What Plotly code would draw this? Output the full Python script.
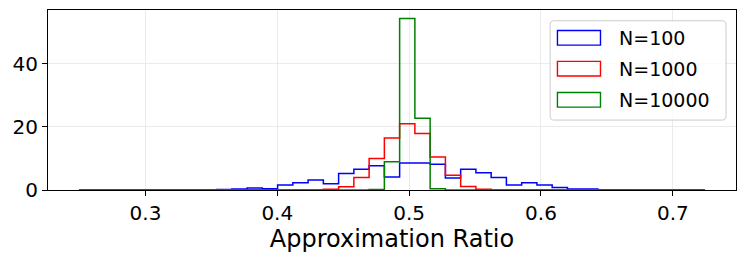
import numpy as np
import plotly.graph_objects as go
import re

# ---- data (density histograms, shared bins) ----
BIN_LO = 0.2498
BIN_HI = 0.7242
N_BINS = 41
labels = ["N=100", "N=1000", "N=10000"]
colors = ["#0000ff", "#ff0000", "#008000"]

density_n100 = [0, 0, 0, 0, 0, 0, 0, 0, 0,
                0.15, 0.3, 0.6, 0.4, 1.6, 2.3, 3.2, 2.0, 5.2, 6.6, 7.7, 4.1,
                8.6, 8.6, 8.2, 3.8, 6.6, 5.5, 4.0, 1.6, 2.3, 1.6, 0.8, 0.3,
                0.3, 0.1, 0.1, 0, 0, 0, 0, 0]
density_n1000 = [0] * 16 + [0.2, 1.0, 4.0, 10.0, 16.5, 21.0, 17.9, 10.5, 4.7,
                            1.1, 0.25] + [0] * 14
density_n10000 = [0] * 19 + [0.15, 9.0, 54.4, 22.8, 0.4] + [0] * 17

xticks = [0.3, 0.4, 0.5, 0.6, 0.7]
yticks = [0, 20, 40]

series = [density_n100, density_n1000, density_n10000]
edges = np.linspace(BIN_LO, BIN_HI, N_BINS + 1)

# ---- layout geometry (pixels) ----
W, H = 747, 261
L, R, T, B = 48.3, 11.3, 10.3, 71.3
pw, ph = W - L - R, H - T - B

def px_x(p):
    return (p - L) / pw

def px_y(p):
    return (H - B - p) / ph

FONT = "DejaVu Sans"

fig = go.Figure()
for vals, lab, col in zip(series, labels, colors):
    xs = [edges[0]] + list(edges)
    ys = [0] + list(vals) + [0]
    fig.add_trace(go.Scatter(x=xs, y=ys, mode="lines", line_shape="hv",
                             line=dict(color=col, width=1.5), name=lab,
                             showlegend=False, hoverinfo="skip"))

span = BIN_HI - BIN_LO
ymax = max(max(s) for s in series) * 1.05

fig.update_xaxes(range=[BIN_LO - 0.05 * span, BIN_HI + 0.05 * span],
                 tickvals=xticks, ticktext=[f"{v:.1f}" for v in xticks],
                 showline=True, mirror=True, linecolor="black", linewidth=1,
                 ticks="outside", ticklen=5, tickwidth=1, tickcolor="black",
                 showgrid=True, gridcolor="#e6e6e6", gridwidth=0.8,
                 zeroline=False, automargin=False,
                 tickfont=dict(family=FONT, size=20, color="black"),
                 title=dict(text="Approximation Ratio",
                            font=dict(family=FONT, size=24, color="black"),
                            standoff=4))
fig.update_yaxes(range=[0, ymax], tickvals=yticks,
                 showline=True, mirror=True, linecolor="black", linewidth=1,
                 ticks="outside", ticklen=5, tickwidth=1, tickcolor="black",
                 showgrid=True, gridcolor="#e6e6e6", gridwidth=0.8,
                 zeroline=False, automargin=False,
                 tickfont=dict(family=FONT, size=20, color="black"))

# ---- legend drawn manually (matplotlib style) ----
bx0, bx1, by0, by1, rad = 550, 725.7, 21, 120, 4
path = (f"M {bx0+rad},{by0} L {bx1-rad},{by0} Q {bx1},{by0} {bx1},{by0+rad} "
        f"L {bx1},{by1-rad} Q {bx1},{by1} {bx1-rad},{by1} L {bx0+rad},{by1} "
        f"Q {bx0},{by1} {bx0},{by1-rad} L {bx0},{by0+rad} Q {bx0},{by0} {bx0+rad},{by0} Z")

def conv(m):
    x, y = float(m.group(1)), float(m.group(2))
    return f"{px_x(x):.5f},{px_y(y):.5f}"

ppath = re.sub(r"([0-9.]+),([0-9.]+)", conv, path)
shapes = [dict(type="path", path=ppath, xref="paper", yref="paper",
               line=dict(color="#cccccc", width=1),
               fillcolor="rgba(255,255,255,0.8)", layer="above")]
annotations = []
row_centers = [38.0, 68.8, 99.8]
for lab, col, cy in zip(labels, colors, row_centers):
    shapes.append(dict(type="rect", xref="paper", yref="paper",
                       x0=px_x(557.3), x1=px_x(600.3),
                       y0=px_y(cy - 7.3), y1=px_y(cy + 7.3),
                       line=dict(color=col, width=1.4),
                       fillcolor="rgba(0,0,0,0)", layer="above"))
    annotations.append(dict(x=px_x(616.5), y=px_y(cy), xref="paper", yref="paper",
                            text=lab, showarrow=False, xanchor="left",
                            yanchor="middle",
                            font=dict(family=FONT, size=19, color="black")))

fig.update_layout(width=W, height=H,
                  margin=dict(l=L, r=R, t=T, b=B, pad=0),
                  plot_bgcolor="white", paper_bgcolor="white",
                  showlegend=False, shapes=shapes, annotations=annotations,
                  font=dict(family=FONT))

fig.write_html("out.html",
               config={"displayModeBar": False, "staticPlot": True},
               post_script="document.body.style.margin='0';"
                           "document.body.style.overflow='hidden';")
